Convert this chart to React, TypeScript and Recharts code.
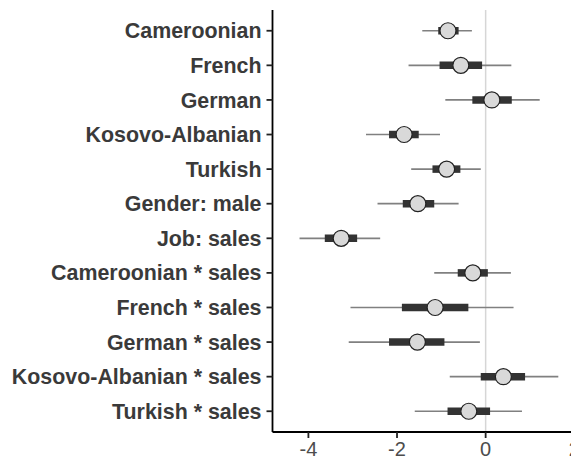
import { ScatterChart, Scatter, XAxis, YAxis, ErrorBar, ReferenceLine } from 'recharts';

const labels = [
  'Cameroonian',
  'French',
  'German',
  'Kosovo-Albanian',
  'Turkish',
  'Gender: male',
  'Job: sales',
  'Cameroonian * sales',
  'French * sales',
  'German * sales',
  'Kosovo-Albanian * sales',
  'Turkish * sales',
];
const estimate = [-0.85, -0.56, 0.14, -1.84, -0.88, -1.53, -3.26, -0.29, -1.14, -1.54, 0.4, -0.38];
const lo95 = [-1.43, -1.74, -0.91, -2.7, -1.68, -2.44, -4.2, -1.16, -3.05, -3.09, -0.81, -1.6];
const hi95 = [-0.31, 0.58, 1.22, -1.03, -0.11, -0.61, -2.38, 0.57, 0.63, -0.13, 1.64, 0.82];
const lo66 = [-1.07, -1.04, -0.3, -2.18, -1.2, -1.87, -3.63, -0.63, -1.89, -2.18, -0.11, -0.86];
const hi66 = [-0.61, -0.08, 0.59, -1.51, -0.57, -1.16, -2.9, 0.05, -0.39, -0.93, 0.89, 0.1];
const xTicks = [-4, -2, 0, 2];

const data = labels.map((name, i) => ({
  name,
  pos: i + 1,
  est: estimate[i],
  err95: [estimate[i] - lo95[i], hi95[i] - estimate[i]],
  err66: [estimate[i] - lo66[i], hi66[i] - estimate[i]],
}));

const Dot = (props: any) => {
  const { cx, cy } = props;
  return <circle cx={cx} cy={cy} r={8} fill="#d9d9d9" stroke="#222" strokeWidth={1.2} />;
};

const App = () => {
  return (
    <div style={{ width: 571, height: 455, overflow: 'hidden' }}>
      <ScatterChart
        width={580}
        height={455}
        margin={{ top: 2, right: 0, bottom: 0, left: 0 }}
        style={{ fontFamily: '"Liberation Sans", Arial, sans-serif' }}
      >
        <XAxis
          type="number"
          dataKey="est"
          domain={[-4.81, 2.31]}
          ticks={xTicks}
          allowDataOverflow
          height={31}
          tickSize={6}
          tickMargin={4}
          axisLine={{ stroke: '#000', strokeWidth: 1.8 }}
          tickLine={{ stroke: '#222', strokeWidth: 1.8 }}
          tick={{ fill: '#4d4d4d', fontSize: 20 }}
        />
        <YAxis
          type="number"
          dataKey="pos"
          domain={[0.4, 12.6]}
          reversed
          ticks={data.map((d) => d.pos)}
          tickFormatter={(v) => labels[v - 1]}
          interval={0}
          width={264.5}
          tickSize={6}
          tickMargin={5}
          axisLine={{ stroke: '#000', strokeWidth: 1.8 }}
          tickLine={{ stroke: '#222', strokeWidth: 1.8 }}
          tick={{ fill: '#3a3a3a', fontSize: 21.4, fontWeight: 'bold' }}
        />
        <ReferenceLine x={0} stroke="#d6d6d6" strokeWidth={1.5} />
        <Scatter data={data} shape={<Dot />} isAnimationActive={false}>
          <ErrorBar dataKey="err95" direction="x" width={0} stroke="#808080" strokeWidth={1.7} />
          <ErrorBar dataKey="err66" direction="x" width={0} stroke="#333" strokeWidth={7.5} />
        </Scatter>
      </ScatterChart>
    </div>
  );
};

export default App;
